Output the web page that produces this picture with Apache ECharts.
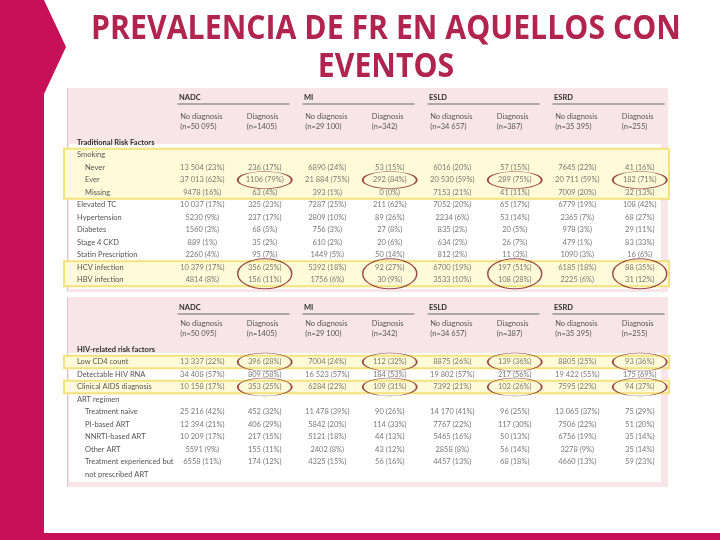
<!DOCTYPE html>
<html>
<head>
<meta charset="utf-8">
<script src="https://cdn.jsdelivr.net/npm/echarts@6/dist/echarts.min.js"></script>
<style>
html,body{margin:0;padding:0;background:#fff;}
#chart{width:720px;height:540px;}
</style>
</head>
<body>
<div id="chart"></div>
<script>
// ---------- data ----------
const titleLines = ['PREVALENCIA DE FR EN AQUELLOS CON', 'EVENTOS'];
const groups = ['NADC', 'MI', 'ESLD', 'ESRD'];
const colKinds = ['No diagnosis', 'Diagnosis', 'No diagnosis', 'Diagnosis', 'No diagnosis', 'Diagnosis', 'No diagnosis', 'Diagnosis'];
const colN = ['(n=50 095)', '(n=1405)', '(n=29 100)', '(n=342)', '(n=34 657)', '(n=387)', '(n=35 395)', '(n=255)'];

const topRows = ['Traditional Risk Factors', 'Smoking', 'Never', 'Ever', 'Missing', 'Elevated TC', 'Hypertension', 'Diabetes', 'Stage 4 CKD', 'Statin Prescription', 'HCV infection', 'HBV infection'];
const topSubRows = ['Never', 'Ever', 'Missing'];
const bottomRows = ['HIV-related risk factors', 'Low CD4 count', 'Detectable HIV RNA', 'Clinical AIDS diagnosis', 'ART regimen', 'Treatment naive', 'PI-based ART', 'NNRTI-based ART', 'Other ART', 'Treatment experienced but', 'not prescribed ART'];
const bottomSubRows = ['Treatment naive', 'PI-based ART', 'NNRTI-based ART', 'Other ART', 'Treatment experienced but', 'not prescribed ART'];
const sectionRows = ['Traditional Risk Factors', 'HIV-related risk factors'];

const never        = ['13 504 (23%)', '236 (17%)', '6890 (24%)', '53 (15%)', '6016 (20%)', '57 (15%)', '7645 (22%)', '41 (16%)'];
const ever         = ['37 013 (62%)', '1106 (79%)', '21 884 (75%)', '292 (84%)', '20 530 (59%)', '289 (75%)', '20 711 (59%)', '182 (71%)'];
const missing      = ['9478 (16%)', '63 (4%)', '393 (1%)', '0 (0%)', '7153 (21%)', '41 (11%)', '7009 (20%)', '32 (13%)'];
const elevatedTC   = ['10 037 (17%)', '325 (23%)', '7287 (25%)', '211 (62%)', '7052 (20%)', '65 (17%)', '6779 (19%)', '108 (42%)'];
const hypertension = ['5230 (9%)', '237 (17%)', '2809 (10%)', '89 (26%)', '2234 (6%)', '53 (14%)', '2365 (7%)', '68 (27%)'];
const diabetes     = ['1560 (3%)', '68 (5%)', '756 (3%)', '27 (8%)', '835 (2%)', '20 (5%)', '978 (3%)', '29 (11%)'];
const ckd4         = ['889 (1%)', '35 (2%)', '610 (2%)', '20 (6%)', '634 (2%)', '26 (7%)', '479 (1%)', '83 (33%)'];
const statin       = ['2260 (4%)', '95 (7%)', '1449 (5%)', '50 (14%)', '812 (2%)', '11 (3%)', '1090 (3%)', '16 (6%)'];
const hcv          = ['10 379 (17%)', '356 (25%)', '5392 (18%)', '92 (27%)', '6700 (19%)', '197 (51%)', '6185 (18%)', '88 (35%)'];
const hbv          = ['4814 (8%)', '156 (11%)', '1756 (6%)', '30 (9%)', '3533 (10%)', '108 (28%)', '2225 (6%)', '31 (12%)'];

const lowCD4   = ['13 337 (22%)', '396 (28%)', '7004 (24%)', '112 (32%)', '8875 (26%)', '139 (36%)', '8805 (25%)', '93 (36%)'];
const hivRNA   = ['34 408 (57%)', '809 (58%)', '16 523 (57%)', '184 (53%)', '19 802 (57%)', '217 (56%)', '19 422 (55%)', '175 (69%)'];
const aids     = ['10 158 (17%)', '353 (25%)', '6284 (22%)', '109 (31%)', '7392 (21%)', '102 (26%)', '7595 (22%)', '94 (37%)'];
const artNaive = ['25 216 (42%)', '452 (32%)', '11 478 (39%)', '90 (26%)', '14 170 (41%)', '96 (25%)', '13 065 (37%)', '75 (29%)'];
const piART    = ['12 394 (21%)', '406 (29%)', '5842 (20%)', '114 (33%)', '7767 (22%)', '117 (30%)', '7506 (22%)', '51 (20%)'];
const nnrtiART = ['10 209 (17%)', '217 (15%)', '5121 (18%)', '44 (13%)', '5465 (16%)', '50 (13%)', '6756 (19%)', '35 (14%)'];
const otherART = ['5591 (9%)', '155 (11%)', '2402 (8%)', '43 (12%)', '2858 (8%)', '56 (14%)', '3278 (9%)', '35 (14%)'];
const txNoART  = ['6558 (11%)', '174 (12%)', '4325 (15%)', '56 (16%)', '4457 (13%)', '68 (18%)', '4660 (13%)', '59 (23%)'];

const topValueRows = [['Never', never], ['Ever', ever], ['Missing', missing], ['Elevated TC', elevatedTC], ['Hypertension', hypertension], ['Diabetes', diabetes], ['Stage 4 CKD', ckd4], ['Statin Prescription', statin], ['HCV infection', hcv], ['HBV infection', hbv]];
const bottomValueRows = [['Low CD4 count', lowCD4], ['Detectable HIV RNA', hivRNA], ['Clinical AIDS diagnosis', aids], ['Treatment naive', artNaive], ['PI-based ART', piART], ['NNRTI-based ART', nnrtiART], ['Other ART', otherART], ['Treatment experienced but', txNoART]];

const topBands = [['Smoking', 'Missing'], ['HCV infection', 'HBV infection']];
const bottomBands = [['Low CD4 count', 'Low CD4 count'], ['Clinical AIDS diagnosis', 'Clinical AIDS diagnosis']];
const diagCols = [1, 3, 5, 7];
const topCircleRows = ['Ever'];
const topDoubleCircleRows = ['HCV infection'];
const bottomCircleRows = ['Low CD4 count', 'Clinical AIDS diagnosis'];

// ---------- styles ----------
const FONT = 'Lato, "Open Sans", sans-serif';
const TXT = '#555555';
const DARK = '#2e2e2e';
const MAGENTA = '#C6105A';
const TITLE = '#B1244F';
const PINK = '#F7E5EA';

const chart = echarts.init(document.getElementById('chart'), null, {renderer: 'canvas'});

function rowLabelFormatter(subRows) {
  return function (v) {
    if (sectionRows.indexOf(v) >= 0) return '{b|' + v + '}';
    if (subRows.indexOf(v) >= 0) return '{i|' + v + '}';
    return '{r|' + v + '}';
  };
}
const rowRich = {
  b: {fontFamily: FONT, fontSize: 7.5, fontWeight: 'bold', color: DARK},
  i: {fontFamily: FONT, fontSize: 7.5, color: TXT, padding: [0, 0, 0, 8]},
  r: {fontFamily: FONT, fontSize: 7.5, color: TXT}
};

function colHeaderFormatter(v, i) {
  const s = (i % 2 === 0) ? 'n' : 'd';
  return '{' + s + '|' + colKinds[i] + '}\n{' + s + '|' + colN[i] + '}';
}
const colRich = {
  n: {fontFamily: FONT, fontSize: 7.5, color: TXT, width: 44, align: 'left', lineHeight: 10},
  d: {fontFamily: FONT, fontSize: 7.5, color: TXT, width: 36, align: 'left', lineHeight: 10}
};
const groupRich = {
  g: {fontFamily: FONT, fontSize: 7.5, fontWeight: 'bold', color: DARK, width: 112, align: 'left', padding: [0, 0, 0, 3], lineHeight: 10},
  u: {width: 112, height: 1, lineHeight: 3, fontSize: 1, backgroundColor: '#6a6a6a'}
};

function makeXAxes(gridIndex, headMargin, groupMargin) {
  return [
    {
      gridIndex, type: 'category', data: colKinds.map((k, i) => k + i), position: 'top', z: 10,
      axisLine: {show: false}, axisTick: {show: false}, splitLine: {show: false},
      axisLabel: {interval: 0, margin: headMargin, formatter: colHeaderFormatter, rich: colRich}
    },
    {
      gridIndex, type: 'category', data: groups, position: 'top', z: 10,
      axisLine: {show: false}, axisTick: {show: false}, splitLine: {show: false},
      axisLabel: {interval: 0, margin: groupMargin, formatter: v => '{g|' + v + '}\n{u| }', rich: groupRich}
    }
  ];
}
function makeYAxis(gridIndex, rows, subRows) {
  return {
    gridIndex, type: 'category', data: rows, inverse: true, z: 10,
    axisLine: {show: false}, axisTick: {show: false}, splitLine: {show: false},
    axisLabel: {interval: 0, align: 'left', margin: 94, formatter: rowLabelFormatter(subRows), rich: rowRich}
  };
}

function bandSeries(xAxisIndex, yAxisIndex, rows, bands) {
  return {
    type: 'custom', xAxisIndex, yAxisIndex, silent: true, z: 1, clip: false,
    data: bands.map(b => [0, rows.indexOf(b[0]), rows.indexOf(b[1])]),
    encode: {x: 0, y: 1},
    renderItem: function (params, api) {
      const cs = params.coordSys;
      const h = api.size([0, 1])[1];
      const y0 = api.coord([0, api.value(1)])[1] - h / 2;
      const y1 = api.coord([0, api.value(2)])[1] + h / 2;
      return {
        type: 'rect',
        shape: {x: cs.x - 107, y: y0, width: cs.width + 105, height: y1 - y0},
        style: {fill: '#FFFBD8', stroke: '#F4E27C', lineWidth: 2}
      };
    }
  };
}

function valueSeries(xAxisIndex, yAxisIndex, valueRows) {
  const data = [];
  valueRows.forEach(([row, arr]) => arr.forEach((t, c) => data.push([c, row, t])));
  return {
    type: 'scatter', xAxisIndex, yAxisIndex, silent: true, z: 3, symbolSize: 0,
    data,
    label: {show: true, position: 'inside', formatter: p => p.value[2], fontFamily: FONT, fontSize: 7.5, color: TXT}
  };
}

function circleSeries(xAxisIndex, yAxisIndex, rows, size, offset) {
  const data = [];
  rows.forEach(r => diagCols.forEach(c => data.push([c, r])));
  return {
    type: 'scatter', xAxisIndex, yAxisIndex, silent: true, z: 4,
    symbol: 'circle', symbolSize: size, symbolOffset: offset, data,
    itemStyle: {color: 'rgba(0,0,0,0)', borderColor: '#7E1D22', borderWidth: 1.1}
  };
}

const option = {
  animation: false,
  backgroundColor: '#ffffff',
  grid: [
    {left: 171, width: 500, top: 136.25, height: 150},
    {left: 171, width: 500, top: 343.25, height: 137.5}
  ],
  xAxis: [].concat(makeXAxes(0, 5, 30.75), makeXAxes(1, 4.25, 27.75)),
  yAxis: [makeYAxis(0, topRows, topSubRows), makeYAxis(1, bottomRows, bottomSubRows)],
  graphic: [
    {type: 'polygon', z: -10, shape: {points: [[0, 0], [44, 0], [66, 47], [44, 94], [44, 533], [720, 533], [720, 540], [0, 540]]}, style: {fill: MAGENTA}},
    {type: 'text', x: 386, y: 29, scaleX: 0.89, style: {text: titleLines[0], fontFamily: '"Open Sans", Lato, sans-serif', fontWeight: 'bold', fontSize: 34, fill: TITLE, align: 'center', verticalAlign: 'middle'}},
    {type: 'text', x: 386, y: 67, scaleX: 0.89, style: {text: titleLines[1], fontFamily: '"Open Sans", Lato, sans-serif', fontWeight: 'bold', fontSize: 34, fill: TITLE, align: 'center', verticalAlign: 'middle'}},
    // panel backgrounds
    {type: 'rect', z: -5, shape: {x: 67, y: 88, width: 601, height: 204}, style: {fill: PINK}},
    {type: 'rect', z: -4, shape: {x: 69, y: 144, width: 592, height: 145}, style: {fill: '#ffffff'}},
    {type: 'line', z: -3, shape: {x1: 67.5, y1: 88, x2: 67.5, y2: 292}, style: {stroke: '#E2C3CD', lineWidth: 1}},
    {type: 'rect', z: -5, shape: {x: 67, y: 297, width: 601, height: 190}, style: {fill: PINK}},
    {type: 'rect', z: -4, shape: {x: 69, y: 353, width: 592, height: 129}, style: {fill: '#ffffff'}},
    {type: 'line', z: -3, shape: {x1: 67.5, y1: 297, x2: 67.5, y2: 487}, style: {stroke: '#E2C3CD', lineWidth: 1}}
  ],
  series: [
    bandSeries(0, 0, topRows, topBands),
    bandSeries(2, 1, bottomRows, bottomBands),
    valueSeries(0, 0, topValueRows),
    valueSeries(2, 1, bottomValueRows),
    circleSeries(0, 0, topCircleRows, [54, 17], [0, 0]),
    circleSeries(0, 0, topDoubleCircleRows, [54, 30], [0, 6.25]),
    circleSeries(2, 1, bottomCircleRows, [54, 18], [0, 0])
  ]
};
chart.setOption(option);
</script>
</body>
</html>
